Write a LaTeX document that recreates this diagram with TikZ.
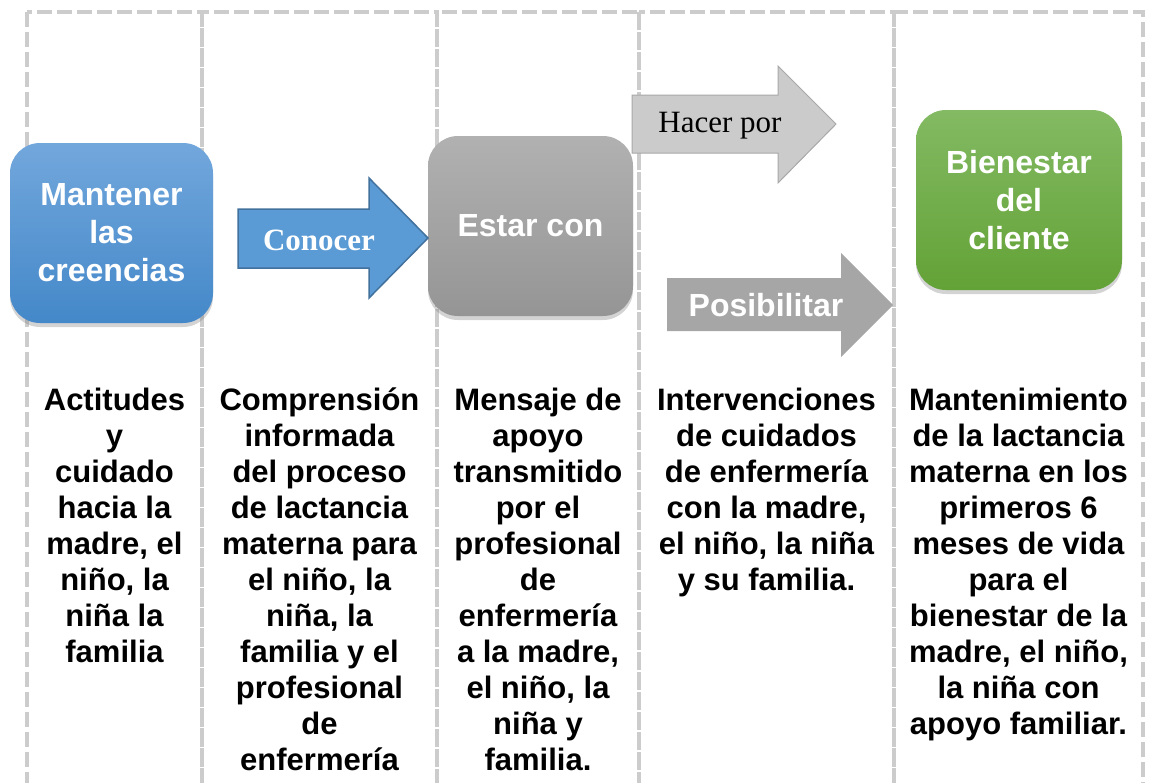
\documentclass[tikz,border=0pt]{standalone}
\usepackage{fontspec}
\setmainfont{Liberation Sans}
\newfontfamily\timesfont{Liberation Serif}
\usetikzlibrary{shadows}

\definecolor{frameGray}{HTML}{CCCCCC}
\definecolor{blueTop}{HTML}{72A7DC}
\definecolor{blueBot}{HTML}{4488C9}
\definecolor{grayTop}{HTML}{B1B1B1}
\definecolor{grayBot}{HTML}{959595}
\definecolor{greenTop}{HTML}{83BA63}
\definecolor{greenBot}{HTML}{63A236}
\definecolor{arrowBlue}{HTML}{5B9BD5}
\definecolor{arrowBlueLine}{HTML}{41719C}
\definecolor{lightArrow}{HTML}{CBCBCB}
\definecolor{lightArrowLine}{HTML}{A8A8A8}
\definecolor{darkArrow}{HTML}{A6A6A6}

\tikzset{
  colframe/.style = {draw=frameGray, line width=4pt, dash pattern=on 15pt off 5pt},
  stagebox/.style = {rounded corners=30pt, drop shadow={opacity=0.35, shadow xshift=0pt, shadow yshift=-4pt}},
  stagetext/.style = {text=white, align=center, font=\bfseries\fontsize{32}{38}\selectfont},
  coltext/.style = {anchor=north, align=center, inner sep=0pt, font=\bfseries\fontsize{31}{36}\selectfont}
}

\begin{document}
\begin{tikzpicture}[x=1pt, y=-1pt]
  \useasboundingbox (0,0) rectangle (1150,782);
  \begin{scope}
    \clip (0,0) rectangle (1150,782);
    % column frames
    \draw[colframe] (27,12) rectangle (201.5,800);
    \draw[colframe] (201.5,12) rectangle (437,800);
    \draw[colframe] (437,12) rectangle (639,800);
    \draw[colframe] (639,12) rectangle (894,800);
    \draw[colframe] (894,12) rectangle (1143,800);
  \end{scope}

  % stage boxes
  \shade[stagebox, top color=blueTop, bottom color=blueBot] (10,143) rectangle (213,323);
  \node[stagetext] (creencias) at (111.5,233) {Mantener\\las\\creencias};

  \shade[stagebox, top color=grayTop, bottom color=grayBot] (428,136) rectangle (633,316);
  \node[stagetext] (estar) at (530.5,226) {Estar con};

  \shade[stagebox, top color=greenTop, bottom color=greenBot] (916,110) rectangle (1122,290);
  \node[stagetext] (bienestar) at (1019,200) {Bienestar\\del\\cliente};

  % block arrows
  \draw[fill=arrowBlue, draw=arrowBlueLine, line width=1.5pt]
    (238,209) -- (369,209) -- (369,178) -- (428,238) -- (369,298) -- (369,268) -- (238,268) -- cycle;
  \node[text=white, font=\timesfont\bfseries\fontsize{31}{36}\selectfont] (conocer) at (319,240) {Conocer};

  \draw[fill=lightArrow, draw=lightArrowLine, line width=1pt]
    (632,95) -- (778,95) -- (778,66) -- (836,124) -- (778,183) -- (778,153) -- (632,153) -- cycle;
  \node[font=\timesfont\fontsize{31}{36}\selectfont] (hacer) at (720,126) {Hacer por};

  \fill[darkArrow]
    (667,278) -- (841,278) -- (841,253) -- (893,305) -- (841,357) -- (841,331) -- (667,331) -- cycle;
  \node[text=white, font=\bfseries\fontsize{32}{38}\selectfont] (posibilitar) at (766,305) {Posibilitar};

  % column texts
  \node[coltext] (actitudes) at (114.5,388) {Actitudes\\y\\cuidado\\hacia la\\madre, el\\niño, la\\niña la\\familia};
  \node[coltext] (comprension) at (319.5,388) {Comprensión\\informada\\del proceso\\de lactancia\\materna para\\el niño, la\\niña, la\\familia y el\\profesional\\de\\enfermería};
  \node[coltext] (mensaje) at (538,388) {Mensaje de\\apoyo\\transmitido\\por el\\profesional\\de\\enfermería\\a la madre,\\el niño, la\\niña y\\familia.};
  \node[coltext] (intervenciones) at (766.5,388) {Intervenciones\\de cuidados\\de enfermería\\con la madre,\\el niño, la niña\\y su familia.};
  \node[coltext] (mantenimiento) at (1018.5,388) {Mantenimiento\\de la lactancia\\materna en los\\primeros 6\\meses de vida\\para el\\bienestar de la\\madre, el niño,\\la niña con\\apoyo familiar.};
\end{tikzpicture}
\end{document}
